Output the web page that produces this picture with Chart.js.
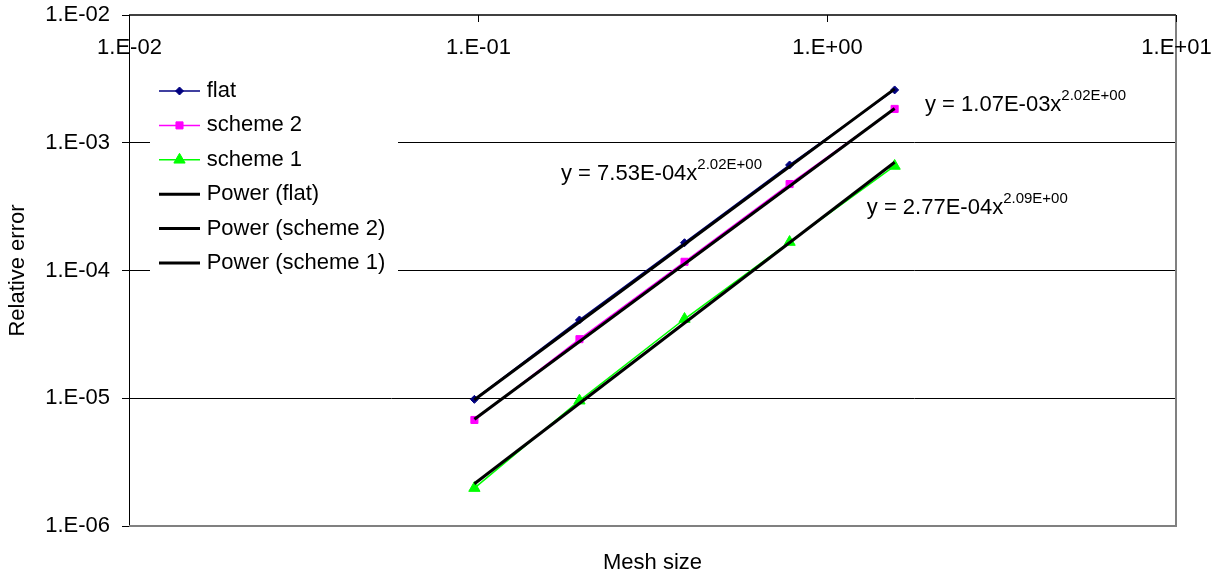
<!DOCTYPE html>
<html>
<head>
<meta charset="utf-8">
<script src="https://cdn.jsdelivr.net/npm/chart.js@4.4.1/dist/chart.umd.min.js"></script>
<style>
html, body { margin: 0; padding: 0; background: #fff; }
#wrap { width: 1221px; height: 577px; }
</style>
</head>
<body>
<div id="wrap"><canvas id="chart" width="1221" height="577"></canvas></div>
<script>
// values
const meshSize = [0.09765625, 0.1953125, 0.390625, 0.78125, 1.5625];
const flatErr = [9.8e-6, 4.1e-5, 1.65e-4, 6.7e-4, 2.59e-3];
const scheme2Err = [6.76e-6, 2.9e-5, 1.17e-4, 4.75e-4, 1.84e-3];
const scheme1Err = [1.98e-6, 9.57e-6, 4.17e-5, 1.67e-4, 6.58e-4];

// power trendlines (straight on log-log, so the two ends are enough)
const fitX = [0.09765625, 1.5625];
const flatFit = [9.74e-6, 2.64e-3];
const scheme2Fit = [6.85e-6, 1.855e-3];
const scheme1Fit = [2.14e-6, 7.04e-4];

const xTickValues = [0.01, 0.1, 1, 10];
const yTickValues = [1e-6, 1e-5, 1e-4, 1e-3, 1e-2];

const fitLabels = ['y = 1.07E-03x', 'y = 7.53E-04x', 'y = 2.77E-04x'];
const fitPowers = ['2.02E+00', '2.02E+00', '2.09E+00'];
const fitLabelAt = [[1.909, 1.975e-3], [0.1729, 5.69e-4], [1.300, 3.08e-4]];

const FONT = "'Liberation Sans', Arial, sans-serif";

const pts = (xs, ys) => xs.map((x, i) => ({ x: x, y: ys[i] }));

const fmtExp = v => {
    const e = Math.round(Math.log10(v));
    return '1.E' + (e < 0 ? '-' : '+') + String(Math.abs(e)).padStart(2, '0');
};

const series = (label, data, color, style, r) => ({
    label: label,
    data: data,
    borderColor: color,
    borderWidth: 1.5,
    pointStyle: style,
    pointRadius: r,
    pointBackgroundColor: color,
    pointBorderColor: color,
    pointBorderWidth: 1,
    order: 1
});

const fit = (label, data) => ({
    label: label,
    data: data,
    borderColor: '#000',
    borderWidth: 3,
    pointRadius: 0,
    order: 0
});

const frame = {
    id: 'frame',
    beforeDatasetsDraw(chart) {
        // legend box sits inside the plot and hides the grid lines
        const ctx = chart.ctx, a = chart.chartArea;
        ctx.save();
        ctx.fillStyle = '#fff';
        ctx.fillRect(a.left + 21, a.top + 60, 248, 206);
        const x0 = a.left + 30;
        chart.data.datasets.forEach((ds, i) => {
            const y = a.top + 76 + i * 34.4;
            ctx.strokeStyle = ds.borderColor;
            ctx.lineWidth = ds.borderWidth;
            ctx.beginPath();
            ctx.moveTo(x0, y);
            ctx.lineTo(x0 + 41, y);
            ctx.stroke();
            if (ds.pointRadius > 0) {
                ctx.fillStyle = ds.pointBackgroundColor;
                ctx.strokeStyle = ds.pointBorderColor;
                ctx.lineWidth = 1;
                Chart.helpers.drawPoint(ctx, { pointStyle: ds.pointStyle, radius: ds.pointRadius, borderWidth: 1, rotation: 0 }, x0 + 20.5, y);
            }
            ctx.fillStyle = '#000';
            ctx.font = '22px ' + FONT;
            ctx.textAlign = 'left';
            ctx.textBaseline = 'middle';
            ctx.fillText(ds.label, x0 + 47.7, y);
        });
        ctx.restore();
    },
    afterDraw(chart) {
        const ctx = chart.ctx, a = chart.chartArea;
        const xs = chart.scales.x, ys = chart.scales.y;
        ctx.save();
        // right / bottom frame
        ctx.strokeStyle = '#808080';
        ctx.lineWidth = 2;
        ctx.beginPath();
        ctx.moveTo(a.left, a.bottom);
        ctx.lineTo(a.right, a.bottom);
        ctx.lineTo(a.right, a.top);
        ctx.stroke();
        // x axis sits on top of the plot
        ctx.strokeStyle = '#404040';
        ctx.beginPath();
        ctx.moveTo(a.left, a.top);
        ctx.lineTo(a.right, a.top);
        ctx.stroke();
        ctx.strokeStyle = '#000';
        ctx.lineWidth = 1;
        ctx.fillStyle = '#000';
        ctx.font = '22px ' + FONT;
        ctx.textAlign = 'center';
        ctx.textBaseline = 'middle';
        xTickValues.forEach(v => {
            const px = Math.round(xs.getPixelForValue(v)) + 0.5;
            ctx.beginPath();
            ctx.moveTo(px, a.top);
            ctx.lineTo(px, a.top + 7);
            ctx.stroke();
            ctx.fillText(fmtExp(v), px, a.top + 33);
        });
        // trendline equations
        ctx.textAlign = 'left';
        fitLabels.forEach((t, i) => {
            const px = xs.getPixelForValue(fitLabelAt[i][0]);
            const py = ys.getPixelForValue(fitLabelAt[i][1]);
            ctx.font = '22px ' + FONT;
            ctx.fillText(t, px, py);
            const w = ctx.measureText(t).width;
            ctx.font = '15px ' + FONT;
            ctx.fillText(fitPowers[i], px + w, py - 9);
        });
        ctx.restore();
    }
};

const ctx = document.getElementById('chart').getContext('2d');
const myChart = new Chart(ctx, {
    type: 'line',
    data: {
        datasets: [
            series('flat', pts(meshSize, flatErr), '#000080', 'rectRot', 4),
            series('scheme 2', pts(meshSize, scheme2Err), '#FF00FF', 'rect', 5),
            series('scheme 1', pts(meshSize, scheme1Err), '#00FF00', 'triangle', 6.5),
            fit('Power (flat)', pts(fitX, flatFit)),
            fit('Power (scheme 2)', pts(fitX, scheme2Fit)),
            fit('Power (scheme 1)', pts(fitX, scheme1Fit))
        ]
    },
    options: {
        responsive: false,
        devicePixelRatio: 1,
        animation: false,
        layout: { padding: { top: 15, right: 45, bottom: 1, left: 0 } },
        plugins: {
            legend: { display: false },
            tooltip: { enabled: false }
        },
        scales: {
            x: {
                type: 'logarithmic',
                position: 'bottom',
                min: 0.01,
                max: 10,
                grid: { display: false },
                border: { display: false },
                ticks: { display: false },
                title: {
                    display: true,
                    text: 'Mesh size',
                    color: '#000',
                    font: { family: FONT, size: 22 },
                    padding: 0
                },
                afterFit: s => { s.height = 50; }
            },
            y: {
                type: 'logarithmic',
                min: 1e-6,
                max: 1e-2,
                afterBuildTicks: s => { s.ticks = yTickValues.map(v => ({ value: v })); },
                ticks: {
                    color: '#000',
                    font: { family: FONT, size: 22 },
                    padding: 12,
                    callback: v => fmtExp(v)
                },
                grid: { color: '#000', lineWidth: 1, tickLength: 7, tickColor: '#000' },
                border: { color: '#000', width: 1 },
                title: {
                    display: true,
                    text: 'Relative error',
                    color: '#000',
                    font: { family: FONT, size: 22 },
                    padding: { top: 5, bottom: 0 }
                },
                afterFit: s => {
                    s.width = 129;
                    s.paddingTop = 0;
                    s.paddingBottom = 0;
                }
            }
        }
    },
    plugins: [frame]
});
</script>
</body>
</html>
